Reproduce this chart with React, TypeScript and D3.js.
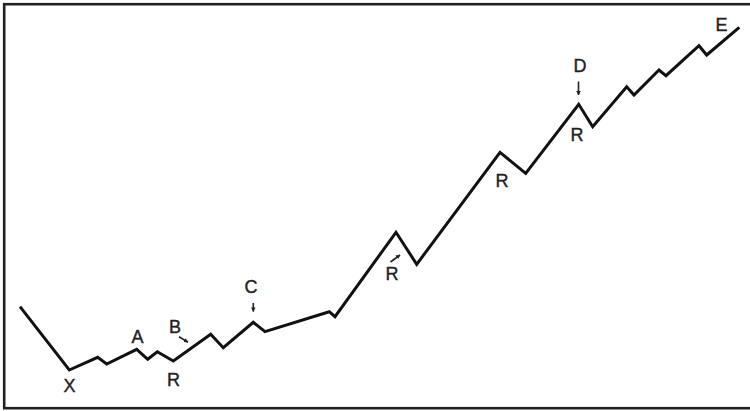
import React from "react";
import * as d3 from "d3";

const W = 750;
const H = 411;

// Abstract time index and price level of each swing point
const times = [20, 69.3, 97.7, 106.7, 136.7, 147.7, 157.3, 173.3, 210.7, 223.3, 253.3, 265, 329.3, 335, 396, 416.7, 500, 525.7, 578.7, 592.7, 626.7, 634, 659, 666, 699, 706.7, 739.3];
const prices = [104.3, 41, 53.7, 47, 61.7, 51.7, 59.3, 50, 76.7, 63.3, 88.7, 79.3, 99.3, 94.3, 178.7, 146.7, 258.7, 237.7, 306.7, 284.3, 324.3, 316, 341, 335.3, 365.3, 356, 383.7];

// Letter labels: text, time, price (baseline)
const labelTexts = ["X", "A", "B", "R", "C", "R", "R", "D", "R", "E"];
const labelTimes = [69.5, 137.5, 175, 173.5, 251, 392, 502, 580, 577, 721.5];
const labelPrices = [19, 68.3, 77.7, 25, 117.7, 131, 224.3, 339.3, 270, 380.3];

// Arrows: from (t1,p1) to (t2,p2)
const arrowT1 = [179, 253.3, 390.5, 578.5];
const arrowP1 = [74.3, 108, 149, 329.5];
const arrowT2 = [188, 253.3, 400, 578.5];
const arrowP2 = [68.8, 99.5, 156, 316];

export default function App() {
  const x = d3.scaleLinear().domain([0, W]).range([0, W]);
  const y = d3.scaleLinear().domain([0, H]).range([H, 0]);
  const pts: [number, number][] = times.map((t, i) => [t, prices[i]]);
  const line = d3
    .line<[number, number]>()
    .x((d) => x(d[0]))
    .y((d) => y(d[1]));

  const font = "'Liberation Sans', Arial, Helvetica, sans-serif";

  return (
    <svg
      width={W}
      height={H}
      style={{ position: "absolute", left: 0, top: 0, background: "#fff" }}
    >
      <defs>
        <marker
          id="ah"
          viewBox="0 0 10 10"
          refX="9"
          refY="5"
          markerWidth="4.5"
          markerHeight="4.5"
          orient="auto"
          markerUnits="userSpaceOnUse"
        >
          <path d="M0,0 L10,5 L0,10 Z" fill="#222" />
        </marker>
      </defs>
      <rect x={4.2} y={4.2} width={760} height={404} fill="#fff" stroke="#231f20" strokeWidth={2.6} />
      <path
        d={line(pts) || ""}
        fill="none"
        stroke="#111"
        strokeWidth={3}
        strokeLinejoin="miter"
        strokeLinecap="butt"
      />
      {arrowT1.map((t, i) => (
        <line
          key={"a" + i}
          x1={x(t)}
          y1={y(arrowP1[i])}
          x2={x(arrowT2[i])}
          y2={y(arrowP2[i])}
          stroke="#222"
          strokeWidth={1.6}
          markerEnd="url(#ah)"
        />
      ))}
      {labelTexts.map((s, i) => (
        <text
          key={"l" + i}
          x={x(labelTimes[i])}
          y={y(labelPrices[i])}
          textAnchor="middle"
          fontFamily={font}
          fontSize={18}
          fill="#222"
          stroke="#222"
          strokeWidth={0.4}
        >
          {s}
        </text>
      ))}
    </svg>
  );
}
